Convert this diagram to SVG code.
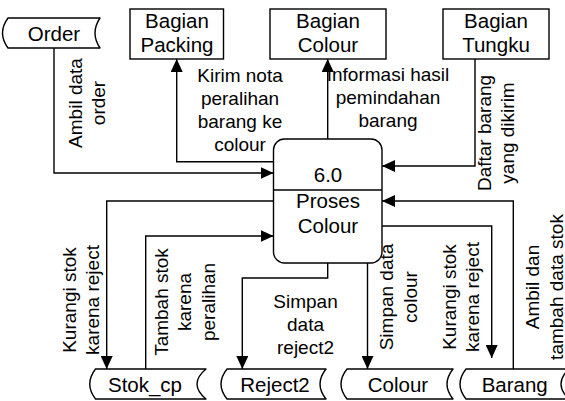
<svg xmlns="http://www.w3.org/2000/svg" width="565" height="401" viewBox="0 0 565 401">
<defs>
<style>
.box{fill:#fff;stroke:#000;stroke-width:1.4}
.store{fill:#fff;stroke:#000;stroke-width:1.4;stroke-linejoin:round}
.con{fill:none;stroke:#000;stroke-width:1.4}
.nt{font-family:"Liberation Sans",Arial,sans-serif;font-size:20.5px;fill:#000;text-anchor:middle}
.lb{font-family:"Liberation Sans",Arial,sans-serif;font-size:19px;fill:#000;text-anchor:middle}
</style>
<marker id="ah" markerUnits="userSpaceOnUse" markerWidth="14" markerHeight="12" refX="13" refY="6" orient="auto">
<path d="M0,0 L13,6 L0,12 z" fill="#000"/>
</marker>
</defs>
<rect width="565" height="401" fill="#fff"/>

<g id="connectors">
<path class="con" d="M54,48 V173 H273.5" marker-end="url(#ah)"/>
<path class="con" d="M273.5,161.7 H176.7 V59" marker-end="url(#ah)"/>
<path class="con" d="M327.7,139 V59" marker-end="url(#ah)"/>
<path class="con" d="M475,59 V166 H382" marker-end="url(#ah)"/>
<path class="con" d="M513.3,369 V201 H382" marker-end="url(#ah)"/>
<path class="con" d="M273.5,201 H106.7 V369" marker-end="url(#ah)"/>
<path class="con" d="M145.7,369 V236 H273.5" marker-end="url(#ah)"/>
<path class="con" d="M327.7,263 V278 H242.3 V369" marker-end="url(#ah)"/>
<path class="con" d="M367.5,263 V369" marker-end="url(#ah)"/>
<path class="con" d="M382,226 H491.7 V358" marker-end="url(#ah)"/>
</g>

<g id="labels">
<text class="lb"><tspan x="240" y="82">Kirim nota</tspan><tspan x="240" y="105">peralihan</tspan><tspan x="240" y="128">barang ke</tspan><tspan x="240" y="151">colour</tspan></text>
<text class="lb"><tspan x="388" y="81">Informasi hasil</tspan><tspan x="388" y="104">pemindahan</tspan><tspan x="388" y="127">barang</tspan></text>
<text class="lb"><tspan x="305.5" y="308">Simpan</tspan><tspan x="305.5" y="331">data</tspan><tspan x="305.5" y="354">reject2</tspan></text>
<text class="lb" transform="translate(81.7,103) rotate(-90)"><tspan x="0" y="0">Ambil data</tspan><tspan x="0" y="23.5">order</tspan></text>
<text class="lb" transform="translate(490.5,133) rotate(-90)"><tspan x="0" y="0">Daftar barang</tspan><tspan x="0" y="23.5">yang dikirim</tspan></text>
<text class="lb" transform="translate(75.5,300) rotate(-90)"><tspan x="0" y="0">Kurangi stok</tspan><tspan x="0" y="23.5">karena reject</tspan></text>
<text class="lb" transform="translate(167.5,302) rotate(-90)"><tspan x="0" y="0">Tambah stok</tspan><tspan x="0" y="23.5">karena</tspan><tspan x="0" y="47">peralihan</tspan></text>
<text class="lb" transform="translate(393,297) rotate(-90)"><tspan x="0" y="0">Simpan data</tspan><tspan x="0" y="23.5">colour</tspan></text>
<text class="lb" transform="translate(455.5,297) rotate(-90)"><tspan x="0" y="0">Kurangi stok</tspan><tspan x="0" y="23.5">karena reject</tspan></text>
<text class="lb" transform="translate(539,287) rotate(-90)"><tspan x="0" y="0">Ambil dan</tspan><tspan x="0" y="23.5">tambah data stok</tspan></text>
</g>

<g id="order">
<path class="store" d="M8,18 H100 Q90,33 100,48 H8 Q-3,33 8,18 Z"/>
<text class="nt" x="54" y="40.5">Order</text>
</g>
<g id="bagian-packing">
<rect class="box" x="130" y="9" width="93.5" height="50"/>
<text class="nt"><tspan x="177" y="27.5">Bagian</tspan><tspan x="177" y="51.5">Packing</tspan></text>
</g>
<g id="bagian-colour">
<rect class="box" x="270" y="9" width="116" height="50"/>
<text class="nt"><tspan x="328" y="27.5">Bagian</tspan><tspan x="328" y="51.5">Colour</tspan></text>
</g>
<g id="bagian-tungku">
<rect class="box" x="443" y="9" width="106" height="50"/>
<text class="nt"><tspan x="496" y="27.5">Bagian</tspan><tspan x="496" y="51.5">Tungku</tspan></text>
</g>
<g id="proses-colour">
<rect class="box" x="273.5" y="139" width="108.5" height="124" rx="11" ry="11"/>
<line class="con" x1="273.5" y1="190" x2="382" y2="190"/>
<text class="nt" x="328" y="182">6.0</text>
<text class="nt"><tspan x="328" y="207.5">Proses</tspan><tspan x="328" y="233">Colour</tspan></text>
</g>
<g id="stok-cp">
<path class="store" d="M95.5,369 H206 Q188,384 206,399 H95.5 Q84,384 95.5,369 Z"/>
<text class="nt" x="145" y="391.5">Stok_cp</text>
</g>
<g id="reject2">
<path class="store" d="M227,369 H326 Q314,384 326,399 H227 Q215,384 227,369 Z"/>
<text class="nt" x="275" y="391.5">Reject2</text>
</g>
<g id="colour">
<path class="store" d="M347,369 H453 Q441,384 453,399 H347 Q335,384 347,369 Z"/>
<text class="nt" x="398" y="391.5">Colour</text>
</g>
<g id="barang">
<path class="store" d="M466,369 H569 Q553,384 569,399 H466 Q454,384 466,369 Z"/>
<text class="nt" x="514.7" y="391.5">Barang</text>
</g>
</svg>
